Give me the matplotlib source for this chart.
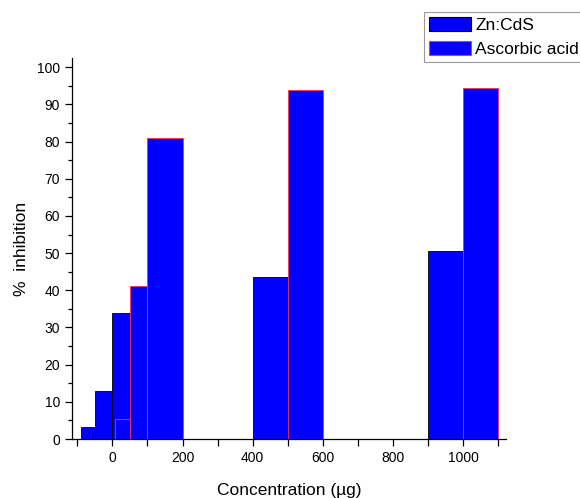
import matplotlib
matplotlib.use("Agg")
import matplotlib.pyplot as plt
from matplotlib.ticker import MultipleLocator
from matplotlib.patches import Patch

plt.rcParams['font.family'] = ['Liberation Sans', 'DejaVu Sans']

# Data (bar left edge on concentration axis, width, % inhibition)
zn_left = [-90, -50, 0, 400, 900]
zn_width = [40, 50, 50, 100, 100]
zn_values = [3.3, 12.8, 33.9, 43.5, 50.5]

asc_left = [8, 50, 100, 500, 1000]
asc_width = [42, 50, 100, 100, 100]
asc_values = [5.4, 41.2, 80.9, 93.8, 94.5]

series_names = ["Zn:CdS", "Ascorbic acid"]
x_ticks = [0, 200, 400, 600, 800, 1000]
y_ticks = [0, 10, 20, 30, 40, 50, 60, 70, 80, 90, 100]

fig = plt.figure(figsize=(5.8, 4.98), dpi=100)
ax = fig.add_axes([72/580, 59/498, (506-72)/580, (439-58)/498])

ax.bar(zn_left, zn_values, width=zn_width, align='edge', color='#0000FF',
       edgecolor='black', linewidth=0.6, zorder=2)
ax.bar(asc_left, asc_values, width=asc_width, align='edge', color='#0000FF',
       edgecolor='#FF3050', linewidth=0.6, zorder=3)

ax.set_xlim(-115, 1122)
ax.set_ylim(0, 102.5)
ax.set_xticks(x_ticks)
ax.xaxis.set_minor_locator(MultipleLocator(100))
ax.set_yticks(y_ticks)
ax.yaxis.set_minor_locator(MultipleLocator(5))

for s in ['top', 'right']:
    ax.spines[s].set_visible(False)
for s in ['left', 'bottom']:
    ax.spines[s].set_linewidth(0.9)

ax.tick_params(axis='both', which='major', direction='out', length=5, width=0.9,
               labelsize=10, colors='black')
ax.tick_params(axis='x', which='minor', direction='out', length=5, width=0.9)
ax.tick_params(axis='y', which='minor', direction='out', length=3, width=0.9)

ax.set_xlabel("Concentration (µg)", fontsize=12.5, labelpad=13)
ax.set_ylabel("%  inhibition", fontsize=12.5, labelpad=6)

handles = [Patch(facecolor='#0000FF', edgecolor='black', linewidth=0.8),
           Patch(facecolor='#0000FF', edgecolor='#FF3050', linewidth=0.8)]
leg = fig.legend(handles, series_names, loc='upper left',
                 bbox_to_anchor=(424/580, 1 - 12/498), fontsize=12.5,
                 frameon=True, fancybox=False, edgecolor='#808080',
                 handlelength=2.4, handleheight=0.85, handletextpad=0.25,
                 borderpad=0.3, labelspacing=0.45, borderaxespad=0)
leg.get_frame().set_linewidth(0.8)

fig.savefig("out.png", dpi=100)
